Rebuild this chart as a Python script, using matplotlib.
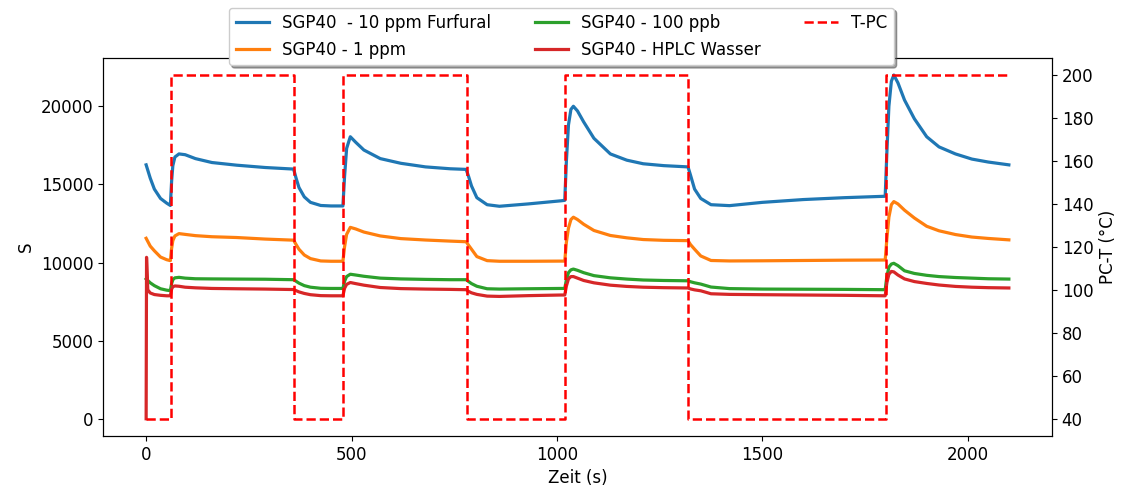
import matplotlib
matplotlib.use("Agg")
import matplotlib.pyplot as plt

plt.rcParams['font.size'] = 12

# Zeitachse (s) fuer die Sensorkurven
zeit = [0, 10, 20, 35, 50, 59, 62, 65, 70, 80, 95, 120, 160, 220, 290, 359,
        365, 372, 385, 400, 425, 450, 479, 483, 488, 497, 510, 530, 570, 620,
        680, 740, 779, 785, 792, 805, 830, 860, 930, 1010, 1019, 1023, 1028,
        1034, 1040, 1050, 1065, 1090, 1130, 1170, 1210, 1260, 1319, 1325, 1335,
        1350, 1375, 1420, 1500, 1600, 1700, 1799, 1803, 1808, 1814, 1820, 1830,
        1846, 1870, 1900, 1930, 1970, 2010, 2050, 2100]

furfural_10ppm = [16250, 15400, 14700, 14100, 13800, 13650, 15200, 16200, 16750, 16950,
                  16900, 16650, 16400, 16230, 16080, 15980, 15400, 14800, 14200, 13850,
                  13650, 13620, 13620, 15500, 17300, 18050, 17700, 17200, 16650, 16350,
                  16120, 16000, 15960, 15500, 14900, 14150, 13700, 13600, 13750, 13950,
                  13980, 16500, 18800, 19800, 20000, 19700, 19000, 17950, 16950, 16550,
                  16320, 16200, 16120, 15600, 14700, 14100, 13700, 13640, 13850, 14030,
                  14150, 14240, 17000, 20000, 21600, 22000, 21500, 20400, 19200, 18050,
                  17400, 16950, 16620, 16430, 16250]

sgp_1ppm = [11550, 11050, 10750, 10350, 10180, 10120, 10900, 11400, 11700, 11850,
            11800, 11720, 11650, 11600, 11500, 11430, 11150, 10850, 10480, 10250,
            10100, 10080, 10080, 11000, 11800, 12250, 12150, 11950, 11700, 11530,
            11440, 11370, 11330, 11100, 10850, 10380, 10120, 10080, 10080, 10090,
            10090, 11300, 12200, 12750, 12900, 12750, 12450, 12050, 11730, 11580,
            11470, 11420, 11400, 11150, 10850, 10420, 10130, 10100, 10110, 10130,
            10150, 10160, 11500, 12900, 13700, 13900, 13750, 13350, 12850, 12320,
            12030, 11790, 11630, 11540, 11450]

sgp_100ppb = [8950, 8700, 8520, 8320, 8230, 8200, 8650, 8900, 9020, 9050,
              9000, 8960, 8950, 8940, 8930, 8900, 8800, 8680, 8520, 8420,
              8350, 8340, 8340, 8800, 9100, 9250, 9200, 9120, 9000, 8950,
              8920, 8900, 8900, 8780, 8650, 8480, 8320, 8300, 8320, 8340,
              8340, 8900, 9350, 9530, 9580, 9500, 9350, 9160, 9020, 8940,
              8880, 8850, 8830, 8770, 8700, 8620, 8430, 8330, 8300, 8290,
              8280, 8260, 9100, 9700, 9900, 9950, 9800, 9470, 9300, 9180,
              9100, 9040, 9000, 8960, 8940]

# HPLC Wasser beginnt mit einem Nullwert und einer Spitze
zeit_hplc = [0, 1, 4] + zeit[1:]
hplc_wasser = [0, 10330, 8250, 8050, 7950, 7900, 7870, 7870, 8300, 8450, 8500, 8480,
               8420, 8380, 8340, 8320, 8300, 8270, 8200, 8120, 8020, 7940,
               7880, 7870, 7870, 8350, 8600, 8720, 8650, 8550, 8400, 8330,
               8300, 8280, 8260, 8150, 8060, 7960, 7850, 7830, 7880, 7920,
               7920, 8500, 8950, 9100, 9100, 9000, 8850, 8700, 8550, 8470,
               8420, 8390, 8370, 8310, 8250, 8190, 8000, 7960, 7940, 7920,
               7900, 7870, 8700, 9250, 9430, 9400, 9200, 8950, 8780, 8660,
               8560, 8470, 8420, 8390, 8370]

# Temperaturprofil PC
zeit_pc = [0, 60, 360, 480, 780, 1020, 1320, 1800, 2100]
temp_pc = [40, 200, 40, 200, 40, 200, 40, 200, 200]

fig, ax = plt.subplots(figsize=(11.22, 4.86), dpi=100)
fig.subplots_adjust(left=0.0918, right=0.9376, bottom=0.103, top=0.881)

l1, = ax.plot(zeit, furfural_10ppm, color='tab:blue', lw=2.3, label='SGP40  - 10 ppm Furfural')
l2, = ax.plot(zeit, sgp_1ppm, color='tab:orange', lw=2.3, label='SGP40 - 1 ppm')
l3, = ax.plot(zeit, sgp_100ppb, color='tab:green', lw=2.3, label='SGP40 - 100 ppb')
l4, = ax.plot(zeit_hplc, hplc_wasser, color='tab:red', lw=2.3, label='SGP40 - HPLC Wasser')
ax.set_xlabel('Zeit (s)')
ax.set_ylabel('S')
ax.set_ylim(-1100, 23100)

ax2 = ax.twinx()
l5, = ax2.plot(zeit_pc, temp_pc, 'r--', lw=1.8, drawstyle='steps-post', label='T-PC')
ax2.set_ylabel('PC-T (°C)')
ax2.set_ylim(32, 208)
ax2.set_yticks(range(40, 201, 20))

ax2.legend(handles=[l1, l2, l3, l4, l5], ncol=3, loc='upper center',
           bbox_to_anchor=(0.483, 1.155), shadow=True, framealpha=1,
           columnspacing=2.6)

plt.savefig('out.png', dpi=100)
